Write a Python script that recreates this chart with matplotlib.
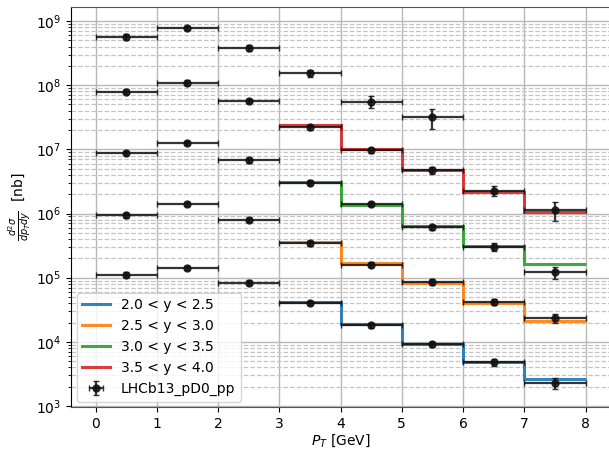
import numpy as np
import matplotlib
matplotlib.use("Agg")
import matplotlib.pyplot as plt
from matplotlib.ticker import LogLocator, NullFormatter

# pT binning
pt_edges = [0, 1, 2, 3, 4, 5, 6, 7, 8]
pt_centers = [0.5, 1.5, 2.5, 3.5, 4.5, 5.5, 6.5, 7.5]

# theory bins (3 < pT < 8 GeV)
th_edges = [3, 4, 5, 6, 7, 8]

# rapidity bin labels
rap_labels = ["2.0 < y < 2.5", "2.5 < y < 3.0", "3.0 < y < 3.5", "3.5 < y < 4.0"]

# measured cross sections (scaled per rapidity bin) [nb]
data_y1 = [1.11e5, 1.43e5, 8.4e4, 4.06e4, 1.80e4, 9.2e3, 4.84e3, 2.31e3]
data_y2 = [9.4e5, 1.42e6, 8.0e5, 3.41e5, 1.59e5, 8.6e4, 4.2e4, 2.35e4]
data_y3 = [8.8e6, 1.25e7, 6.7e6, 3.04e6, 1.40e6, 6.1e5, 2.99e5, 1.22e5]
data_y4 = [7.9e7, 1.10e8, 5.7e7, 2.2e7, 9.6e6, 4.7e6, 2.26e6, 1.13e6]
data_y5 = [5.6e8, 7.8e8, 3.85e8, 1.52e8, 5.55e7, 3.17e7]

# relative uncertainties of the measurements
rel_err_y1 = [0.09, 0.08, 0.08, 0.08, 0.09, 0.10, 0.13, 0.19]
rel_err_y2 = [0.08, 0.08, 0.08, 0.08, 0.09, 0.10, 0.12, 0.17]
rel_err_y3 = [0.08, 0.08, 0.08, 0.08, 0.08, 0.10, 0.14, 0.22]
rel_err_y4 = [0.09, 0.08, 0.08, 0.09, 0.10, 0.11, 0.18, 0.33]
rel_err_y5 = [0.10, 0.08, 0.10, 0.12, 0.20, 0.34]

# predictions per rapidity bin [nb]
pred_y1 = [4.2e4, 1.91e4, 9.4e3, 4.9e3, 2.6e3]
pred_y2 = [3.6e5, 1.67e5, 8.3e4, 4.1e4, 2.15e4]
pred_y3 = [3.08e6, 1.38e6, 6.35e5, 3.17e5, 1.61e5]
pred_y4 = [2.41e7, 1.02e7, 4.7e6, 2.18e6, 1.07e6]

colors = ["#1f77b4", "#ff7f0e", "#2ca02c", "#d62728"]

fig = plt.figure(figsize=(6.09, 4.49), dpi=100)
ax = fig.add_axes([71 / 609, 41.7 / 449, 539 / 609, 400.6 / 449])

for pred, lab, c in zip([pred_y1, pred_y2, pred_y3, pred_y4], rap_labels, colors):
    ax.stairs(pred, th_edges, baseline=None, color=c, lw=2.2, alpha=0.9, label=lab)

# all measured points in one errorbar set
xs, ys, xe, ye = [], [], [], []
for vals, rel in zip([data_y1, data_y2, data_y3, data_y4, data_y5],
                     [rel_err_y1, rel_err_y2, rel_err_y3, rel_err_y4, rel_err_y5]):
    n = len(vals)
    xs += pt_centers[:n]
    ys += vals
    xe += [0.5] * n
    ye += [v * r for v, r in zip(vals, rel)]

ax.errorbar(xs, ys, xerr=xe, yerr=ye, fmt="o", color="#111111", alpha=0.85,
            ms=5, lw=1.6, capsize=2, label="LHCb13_pD0_pp", zorder=3)

ax.set_yscale("log")
ax.set_xlim(-0.4, 8.4)
ax.set_ylim(9.55e2, 1.67e9)
ax.set_xticks(range(0, 9))
ax.yaxis.set_major_locator(LogLocator(base=10, numticks=20))
ax.yaxis.set_minor_locator(LogLocator(base=10, subs=np.arange(2, 10), numticks=100))
ax.yaxis.set_minor_formatter(NullFormatter())

ax.grid(True, which="major", axis="both", color="#b8b8b8", lw=1.0, ls="-")
ax.grid(True, which="minor", axis="y", color="#c4c4c4", lw=0.9, ls="--")
ax.set_axisbelow(True)

for s in ["top", "bottom", "right"]:
    ax.spines[s].set_color("#555555")

ax.set_xlabel(r"$P_T$ [GeV]", fontsize=10, labelpad=0.5)
ax.set_ylabel(r"$\frac{d^2\sigma}{dp_T dy}$  [nb]", fontsize=10, labelpad=2)
ax.tick_params(labelsize=10)

ax.legend(loc="lower left", fontsize=10, borderaxespad=0.4)

fig.savefig("out.png", dpi=100)
